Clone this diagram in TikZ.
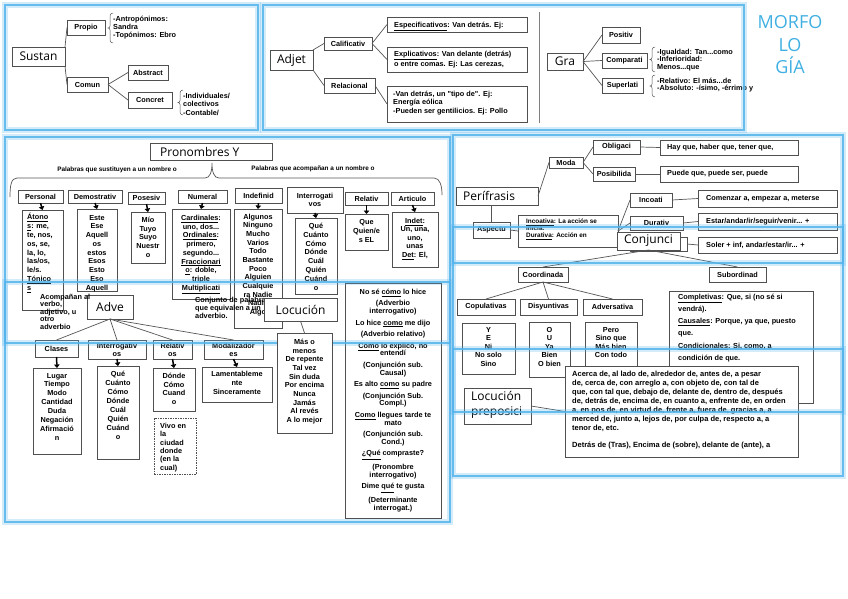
\documentclass[tikz,border=0pt]{standalone}
\usepackage{fontspec}
\setmainfont{Liberation Sans}
\newfontfamily\smfam{Liberation Sans}
\newfontfamily\bgfam{Open Sans}
\usetikzlibrary{arrows.meta}
\definecolor{pblue}{RGB}{84,180,236}
\definecolor{morfc}{RGB}{64,176,226}
\definecolor{bgray}{RGB}{80,80,80}
\definecolor{lgray}{RGB}{85,85,85}
\newcommand\mkbox[7][]{\node[bx,minimum width={(#5-#3)*1pt},minimum height={(#6-#4)*1pt},#1] (#2) at (#3,#4) {#7};}
\newcommand\ctext[5][]{\node[tx,#1] (#2) at (#3,#4) {#5};}
\newcommand\ltext[5][]{\node[tx,anchor=north west,align=left,#1] (#2) at (#3,#4) {#5};}
\newcommand\mkbrk[3]{\draw[conn,line width=0.5pt] ({#1+3},#2) to[out=180,in=90] (#1,{#2+3}) -- (#1,{(#2+#3)/2-2}) to[out=-90,in=0] ({#1-2},{(#2+#3)/2}) to[out=0,in=90] (#1,{(#2+#3)/2+2}) -- (#1,{#3-3}) to[out=-90,in=180] ({#1+3},#3);}
\begin{document}
\begin{tikzpicture}[x=1pt,y=-1pt,
  bx/.style={draw=bgray,fill=white,line width=0.8pt,anchor=north west,inner sep=1pt,outer sep=0pt,align=center,font=\smfam\bfseries\fontsize{7.3}{8}\selectfont},
  big/.style={font=\bgfam\fontsize{12}{14}\selectfont},
  tx/.style={anchor=north,align=center,inner sep=0pt,font=\smfam\bfseries\fontsize{7.3}{8.8}\selectfont,execute at begin node={\rule{0pt}{5.2pt}}},
  lsk/.style={font=\smfam\bfseries\fontsize{7.3}{#1}\selectfont},
  fs/.style 2 args={font=\smfam\bfseries\fontsize{#1}{#2}\selectfont},
  conn/.style={draw=lgray,line width=0.7pt},
  arr/.style={draw=black,line width=1.5pt,-{Triangle[length=3.5pt,width=5.5pt]}},
  panel/.style={draw=pblue,line width=2.2pt,opacity=0.85},
  glow/.style={draw=pblue,line width=5.5pt,opacity=0.25},
  ttl/.style={font=\bgfam\fontsize{12}{15}\selectfont,inner sep=0pt},
]
\fill[white] (0,0) rectangle (848,599);
\useasboundingbox (0,0) rectangle (848,599);

% ---------- Sustantivo
\mkbox[big]{sustan}{12}{47}{65}{66}{Sustan}
\mkbox{propio}{67}{20}{105}{35}{Propio}
\mkbox{comun}{67}{77}{108}{92}{Comun}
\mkbox{abstract}{128}{65}{168}{80}{Abstract}
\mkbox{concret}{128}{92}{172}{108}{Concret}
\draw[conn] (sustan.north east) -- (propio.west);
\draw[conn] (sustan.south east) -- (comun.west);
\draw[conn] (comun.east) -- (abstract.west);
\draw[conn] (comun.east) -- (concret.west);
\mkbrk{110}{13}{43}
\ltext[lsk=8]{tpropio}{113}{15.8}{-Antropónimos:\\Sandra\\-Topónimos: Ebro}
\mkbrk{180}{90}{115}
\ltext[lsk=8.5]{tconcret}{183}{92.8}{-Individuales/\\colectivos\\-Contable/}

% ---------- Adjetivo
\mkbox[big]{adjet}{270}{50}{313}{70}{Adjet}
\mkbox{calif}{324}{37}{372}{50}{Calificativ}
\mkbox{relac}{324}{78}{375}{93}{Relacional}
\mkbox{espec}{387}{17}{527}{32}{}
\mkbox{explic}{387}{47}{527}{72}{}
\mkbox{reltx}{387}{86}{527}{122}{}
\draw[conn] (adjet.north east) -- (calif.west);
\draw[conn] (adjet.south east) -- (relac.west);
\draw[conn] (calif.east) -- (espec.west);
\draw[conn] (calif.east) -- (explic.west);
\draw[conn] (relac.east) -- (reltx.west);
\ltext{tespec}{394}{21.8}{\underline{Especificativos}: Van detrás. Ej:}
\ltext[lsk=10]{texplic}{394}{50.8}{\underline{Explicativos}: Van delante (detrás)\\o entre comas. Ej: Las cerezas,}
\ltext[lsk=8.5]{treltx}{393}{90.8}{-Van detrás, un "tipo de". Ej:\\Energía eólica\\-Pueden ser gentilicios. Ej: Pollo}
\draw[draw=gray,line width=0.8pt] (539,12) -- (539,123);

% ---------- Grado
\mkbox[big]{gra}{547}{53}{583}{70}{Gra}
\mkbox{positiv}{602}{27}{640}{43}{Positiv}
\mkbox{compar}{602}{53}{647}{68}{Comparati}
\mkbox{superl}{602}{78}{643}{93}{Superlati}
\draw[conn] (gra.east) -- (positiv.west);
\draw[conn] (gra.east) -- (compar.west);
\draw[conn] (gra.east) -- (superl.west);
\mkbrk{652}{47}{72}
\mkbrk{652}{75}{97}
\ltext[lsk=7.5]{tcompar}{657}{48.8}{-Igualdad: Tan...como\\-Inferioridad:\\Menos...que}
\ltext[lsk=7.5]{tsuperl}{657}{77.8}{-Relativo: El más...de\\-Absoluto: -ísimo, -érrimo y}

\node[font=\bgfam\fontsize{18}{22.5}\selectfont,text=morfc,align=center,inner sep=0pt] (morfo) at (790,45) {MORFO\\LO\\GÍA};

% ---------- Pronombres
\mkbox{pron}{150}{143}{272}{160}{}
\node[ttl,anchor=west] (tpron) at (160,151.5) {Pronombres Y};
\draw[conn] (10,197) .. controls (10,186) and (11,178) .. (17,178) -- (205,178) .. controls (210,178) and (212,172) .. (212,163) .. controls (212,172) and (214,178) .. (219,178) -- (434,178) .. controls (440,178) and (442,186) .. (442,195);
\node[inner sep=0pt,fs={6.4}{7}] (lsust) at (117,170) {Palabras que sustituyen a un nombre o};
\node[inner sep=0pt,fs={6.4}{7}] (lacom) at (313,169) {Palabras que acompañan a un nombre o};

\mkbox{personal}{18}{190}{63}{203}{Personal}
\mkbox{demos}{68}{190}{122}{203}{Demostrativ}
\mkbox{poses}{128}{192}{165}{204}{Posesiv}
\mkbox{numer}{178}{190}{227}{203}{Numeral}
\mkbox{indef}{235}{188}{282}{203}{Indefinid}
\mkbox{interr}{287}{187}{343}{213}{Interrogati\\vos}
\mkbox{relat}{345}{192}{388}{205}{Relativ}
\mkbox{artic}{391}{192}{434}{205}{Articulo}

\mkbox{personalc}{22}{210}{63}{310}{}
\mkbox{demosc}{77}{209}{117}{291}{}
\mkbox{posesc}{131}{212}{165}{263}{}
\mkbox{numerc}{172}{209}{230}{299}{}
\mkbox{indefc}{234}{209}{282}{328}{}
\mkbox{interrc}{295}{218}{337}{294}{}
\mkbox{relatc}{345}{214}{388}{250}{}
\mkbox{articc}{392}{212}{438}{267}{}
\foreach \h in {personal,demos,poses,numer,indef,interr,relat,artic}
  \draw[arr] (\h.south) -- (\h c.north);

\ltext[lsk=8.9]{tpers}{27}{212.8}{\underline{Átono}\\\underline{s}: me,\\te, nos,\\os, se,\\la, lo,\\las/os,\\le/s.\\\underline{Tónico}\\\underline{s}}
\ctext[lsk=8.75]{tdemo}{97}{214.8}{Este\\Ese\\Aquell\\os\\estos\\Esos\\Esto\\Eso\\Aquell}
\ctext[lsk=8.75]{tposes}{148}{216.8}{Mío\\Tuyo\\Suyo\\Nuestr\\o}
\ctext[lsk=8.75]{tnumer}{201}{214.8}{\underline{Cardinales}:\\uno, dos...\\\underline{Ordinales}:\\primero,\\segundo...\\\underline{Fraccionari}\\\underline{o}: doble,\\triple\\\underline{Multiplicati}}
\ctext[lsk=8.67]{tindef}{258}{213.8}{Algunos\\Ninguno\\Mucho\\Varios\\Todo\\Bastante\\Poco\\Alguien\\Cualquie\\ra Nadie\\Nadie\\Algo}
\ctext[lsk=8.86]{tinterr}{316}{222.8}{Qué\\Cuánto\\Cómo\\Dónde\\Cuál\\Quién\\Cuánd\\o}
\ctext[lsk=9]{trelat}{366.5}{218.8}{Que\\Quien/e\\s EL}
\ctext[lsk=8.5]{tartic}{415}{217.8}{\underline{Indet}:\\Un, una,\\uno,\\unas\\\underline{Det}: El,}

\mkbox{nose}{345}{283}{441}{518}{}
\ctext[fs={7.3}{7.6}]{tnose}{393}{288.8}{No sé \underline{cómo} lo hice\\[4pt](Adverbio\\interrogativo)\\[4pt]Lo hice \underline{como} me dijo\\[4pt](Adverbio relativo)\\[4pt]\underline{Como} lo explicó, no\\entendí\\[4pt](Conjunción sub.\\Causal)\\[4pt]Es alto \underline{como} su padre\\[4pt](Conjunción Sub.\\Compl.)\\[4pt]\underline{Como} llegues tarde te\\mato\\[4pt](Conjunción sub.\\Cond.)\\[4pt]\underline{¿Qué} compraste?\\[4pt](Pronombre\\interrogativo)\\[4pt]Dime \underline{qué} te gusta\\[4pt](Determinante\\interrogat.)}

% ---------- Adverbio
\mkbox[big]{adve}{87}{295}{133}{319}{Adve}
\ltext[lsk=7.5]{tacomp}{40}{293.8}{Acompañan al\\verbo,\\adjetivo, u\\otro\\adverbio}
\ltext[lsk=8]{tconj}{195}{296.8}{Conjunto de palabras\\que equivalen a un\\adverbio.}
\mkbox{clases}{35}{340}{78}{357}{Clases}
\mkbox{interra}{88}{340}{146}{359}{Interrogativ\\os}
\mkbox{relata}{153}{340}{192}{359}{Relativ\\os}
\mkbox{modal}{204}{340}{263}{359}{Modalizador\\es}
\draw[conn] (adve.south) -- (clases.north);
\draw[conn] (adve.south) -- (interra.north);
\draw[conn] (adve.south) -- (relata.north);
\draw[conn] (adve.south) -- (modal.north);
\mkbox{clasesc}{33}{368}{81}{454}{}
\mkbox{interrac}{97}{366}{139}{459}{}
\mkbox{relatac}{153}{368}{195}{411}{}
\mkbox{modalc}{202}{367}{272}{402}{}
\foreach \h in {clases,interra,relata,modal}
  \draw[arr] (\h.south) -- (\h c.north);
\ctext[lsk=8.86]{tclases}{57}{372.8}{Lugar\\Tiempo\\Modo\\Cantidad\\Duda\\Negación\\Afirmació\\n}
\ctext[lsk=9]{tinterra}{118}{370.8}{Qué\\Cuánto\\Cómo\\Dónde\\Cuál\\Quién\\Cuánd\\o}
\ctext[lsk=8.7]{trelata}{174}{372.8}{Dónde\\Cómo\\Cuand\\o}
\mkbox[dash pattern=on 1.5pt off 1pt]{vivo}{154}{418}{196}{474}{}
\ltext[lsk=8.4]{tvivo}{160}{422.8}{Vivo en\\la\\ciudad\\donde\\(en la\\cual)}
\ctext[lsk=9]{tmodal}{237}{370.8}{Lamentableme\\nte\\Sinceramente}
\mkbox[big]{locu}{264}{298}{337}{321}{Locución}

% ---------- Perifrasis
\mkbox{perif}{456}{187}{538}{205}{}
\node[ttl,anchor=west] (tperif) at (463,196) {Perífrasis};
\mkbox{moda}{549}{157}{583}{168}{Moda}
\mkbox{oblig}{593}{140}{640}{154}{Obligaci}
\mkbox{posib}{593}{167}{635}{181}{Posibilida}
\mkbox{hay}{660}{140}{798}{155}{}
\mkbox{puede}{660}{166}{798}{182}{}
\node[tx,anchor=west,execute at begin node={}] (thay) at (667,147.5) {Hay que, haber que, tener que,};
\node[tx,anchor=west,execute at begin node={}] (tpuede) at (667,174) {Puede que, puede ser, puede};
\draw[conn] (perif.east) -- (moda.west);
\draw[conn] (moda.east) -- (oblig.west);
\draw[conn] (moda.east) -- (posib.west);
\draw[conn] (oblig.east) -- (hay.west);
\draw[conn] (posib.east) -- (puede.west);
\mkbox{aspectu}{473}{222}{510}{238}{Aspectu}
\draw[conn] (aspectu.north) -- (aspectu.north |- perif.south);
\mkbox{asptx}{518}{215}{618}{247}{}
\ltext[fs={6.4}{7.2}]{tasp}{526}{218.5}{\underline{Incoativa}: La acción se\\inicia.\\\underline{Durativa}: Acción en}
\draw[conn] (aspectu.east) -- (asptx.west);
\mkbox{incoati}{630}{193}{672}{207}{Incoati}
\mkbox{durativ}{630}{216}{683}{230}{Durativ}
\mkbox{habit}{630}{237}{687}{251}{}
\mkbox{comenz}{698}{190}{837}{207}{}
\mkbox{estar}{698}{213}{837}{230}{}
\mkbox{soler}{698}{237}{837}{253}{}
\node[tx,anchor=west,execute at begin node={}] (tcomenz) at (706,198.5) {Comenzar a, empezar a, meterse};
\node[tx,anchor=west,execute at begin node={}] (testar) at (706,221.5) {Estar/andar/ir/seguir/venir... +};
\node[tx,anchor=west,execute at begin node={}] (tsoler) at (706,245) {Soler + inf, andar/estar/ir... +};
\draw[conn] (asptx.east) -- (incoati.west);
\draw[conn] (asptx.east) -- (durativ.west);
\draw[conn] (asptx.east) -- (habit.west);
\draw[conn] (incoati.east) -- (comenz.west);
\draw[conn] (durativ.east) -- (estar.west);
\draw[conn] (habit.east) -- (soler.west);

% ---------- Conjuncion
\mkbox[big]{conj}{617}{232}{680}{250}{Conjunci}
\mkbox{coord}{518}{267}{568}{282}{Coordinada}
\mkbox{subord}{709}{267}{766}{282}{Subordinad}
\draw[conn] (conj.south) -- (coord.north);
\draw[conn] (conj.south) -- (subord.north);
\mkbox{copul}{457}{299}{515}{315}{Copulativas}
\mkbox{disy}{520}{299}{577}{315}{Disyuntivas}
\mkbox{adver}{583}{299}{642}{315}{Adversativa}
\draw[conn] (coord.south) -- (copul.north);
\draw[conn] (coord.south) -- (disy.north);
\draw[conn] (coord.south) -- (adver.north);
\mkbox{copulc}{462}{323}{515}{374}{}
\mkbox{disyc}{529}{322}{570}{377}{}
\mkbox{adverc}{585}{322}{637}{380}{}
\ctext[lsk=8.6]{tcopul}{488.5}{326.8}{Y\\E\\Ni\\No solo\\Sino}
\ctext[lsk=8.6]{tdisy}{549.5}{326.8}{O\\U\\Ya\\Bien\\O bien}
\ctext[lsk=8.6]{tadver}{611}{326.8}{Pero\\Sino que\\Más bien\\Con todo}
\mkbox{subordc}{669}{291}{813}{403}{}
\ltext[lsk=12.2]{tsubord}{678}{293.8}{\underline{Completivas}: Que, si (no sé si\\vendrá).\\\underline{Causales}: Porque, ya que, puesto\\que.\\\underline{Condicionales}: Si, como, a\\condición de que.}

% ---------- Locucion preposicional
\mkbox{locprep}{464}{388}{531}{424}{}
\node[ttl,anchor=north west,align=left] (tlocprep) at (471,391) {Locución\\preposici};
\mkbox{acerca}{565}{366}{798}{457}{}
\draw[conn] (locprep.east) -- (acerca.west);
\ltext[fs={7.5}{9}]{tacerca}{572}{370.8}{Acerca de, al lado de, alrededor de, antes de, a pesar\\de, cerca de, con arreglo a, con objeto de, con tal de\\que, con tal que, debajo de, delante de, dentro de, después\\de, detrás de, encima de, en cuanto a, enfrente de, en orden\\a, en pos de, en virtud de, frente a, fuera de, gracias a, a\\merced de, junto a, lejos de, por culpa de, respecto a, a\\tenor de, etc.\\[8pt]Detrás de (Tras), Encima de (sobre), delante de (ante), a}

% ---------- panels
\foreach \a/\b/\c/\d in {5/5/258/130, 263/5/744/130, 5/137/450/343, 5/282/450/522, 453/135/843/263, 453/227/843/412, 453/349/843/476} {
  \draw[glow] (\a,\b) rectangle (\c,\d);
  \draw[panel] (\a,\b) rectangle (\c,\d);
}

% box that lies above the panel border
\mkbox{masmen}{277}{333}{332}{433}{}
\draw[conn] (locu.south) -- (masmen.north);
\ctext[lsk=8.67]{tmasmen}{304.5}{338.8}{Más o\\menos\\De repente\\Tal vez\\Sin duda\\Por encima\\Nunca\\Jamás\\Al revés\\A lo mejor}
\end{tikzpicture}
\end{document}
